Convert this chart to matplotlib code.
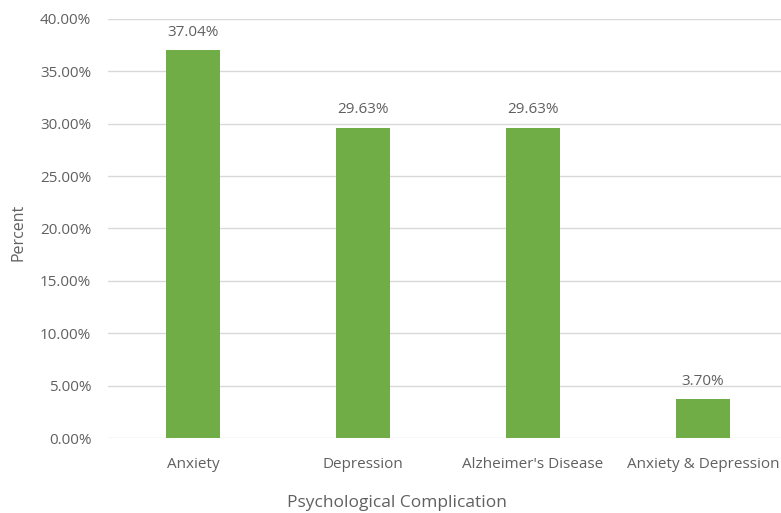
import matplotlib.pyplot as plt
from matplotlib.ticker import FuncFormatter

categories = ["Anxiety", "Depression", "Alzheimer's Disease", "Anxiety & Depression"]
percent = [37.04, 29.63, 29.63, 3.70]

plt.rcParams['font.family'] = ['Open Sans', 'DejaVu Sans']
grey = "#606060"
W, H = 781, 513

fig = plt.figure(figsize=(W / 100, H / 100), dpi=100)
ax = fig.add_axes([108 / W, 75 / H, 680 / W, 419 / H])

x = range(len(categories))
bars = ax.bar(x, percent, width=0.32, color="#70AD47", zorder=3)
for b, v in zip(bars, percent):
    ax.text(b.get_x() + b.get_width() / 2, v + 1.0, f"{v:.2f}%",
            ha="center", va="bottom", fontsize=11, color=grey)

ax.set_xlim(-0.5, len(categories) - 0.5)
ax.set_ylim(0, 40)
ax.set_yticks(range(0, 41, 5))
ax.yaxis.set_major_formatter(FuncFormatter(lambda v, p: f"{v:.2f}%"))
ax.set_xticks(list(x))
ax.set_xticklabels(categories)
ax.grid(axis="y", color="#d9d9d9", linewidth=1, zorder=0)
for s in ax.spines.values():
    s.set_visible(False)
ax.tick_params(length=0, labelsize=11, labelcolor=grey)
ax.tick_params(axis="x", pad=14)
ax.tick_params(axis="y", pad=12)

# axis titles placed in figure pixels
fig.text(397 / W, 1 - 503 / H, "Psychological Complication", fontsize=12.5,
         color=grey, ha="center", va="center")
fig.text(18 / W, 1 - 232 / H, "Percent", fontsize=11.5, color=grey,
         rotation=90, ha="center", va="center")

fig.savefig("out.png", dpi=100)
